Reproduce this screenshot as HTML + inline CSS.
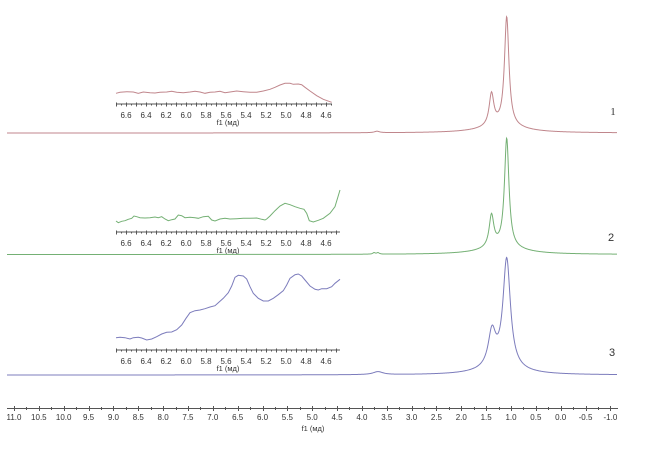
<!DOCTYPE html>
<html><head><meta charset="utf-8">
<style>
html,body{margin:0;padding:0;background:#fff;}
svg{display:block;}
text{font-family:"Liberation Sans","DejaVu Sans",sans-serif;fill:#333;}
</style></head>
<body>
<svg id="s" width="649" height="454" viewBox="0 0 649 454" xmlns="http://www.w3.org/2000/svg">
<g id="axes" stroke="#555" stroke-width="1" fill="none"></g>
<g id="labels" font-size="8" text-anchor="middle"></g>
<text x="313" y="431" font-size="7.5" text-anchor="middle">f1 (мд)</text>
<text x="228" y="125" font-size="7.5" text-anchor="middle">f1 (мд)</text>
<text x="228" y="253" font-size="7.5" text-anchor="middle">f1 (мд)</text>
<text x="228" y="371" font-size="7.5" text-anchor="middle">f1 (мд)</text>
<text x="613" y="115" font-size="11" text-anchor="middle" style="font-family:'Liberation Serif',serif">1</text>
<text x="611" y="241" font-size="11" text-anchor="middle">2</text>
<text x="612" y="356" font-size="11" text-anchor="middle">3</text>
<g id="curves" fill="none" stroke-width="1"></g>
</svg>
<script>
(function(){
var NS="http://www.w3.org/2000/svg";
var axes=document.getElementById('axes'),labels=document.getElementById('labels'),curves=document.getElementById('curves');
function el(p,tag,attrs,txt){var e=document.createElementNS(NS,tag);for(var k in attrs)e.setAttribute(k,attrs[k]);if(txt!==undefined)e.textContent=txt;p.appendChild(e);return e;}
function line(x1,y1,x2,y2){el(axes,'line',{x1:x1,y1:y1,x2:x2,y2:y2});}
function X(p){return 14+(11-p)*49.7;}
line(7,408.5,618,408.5);
for(var i=0;i<=48;i++){var p=11-i*0.25;var x=Math.round(X(p))+0.5;
 if(i%2==0){line(x,406,x,411);el(labels,'text',{x:X(p),y:420},p.toFixed(1));}
 else line(x,407,x,410);}
function IX(p){return 126+(6.6-p)*100;}
function inset(y,xend){
 line(116,y+0.5,xend,y+0.5);
 for(var k=0;k<=44;k++){var p=6.7-k*0.05;var x=IX(p);if(x>xend+0.5)break;x=Math.round(x)+0.5;
  if(k%2==0)line(x,y-1,x,y+3);else line(x,y,x,y+2);}
 var labs=[6.6,6.4,6.2,6.0,5.8,5.6,5.4,5.2,5.0,4.8,4.6];
 labs.forEach(function(p){el(labels,'text',{x:IX(p),y:y+14.5},p.toFixed(1));});
}
inset(103.5,332);inset(231.5,340);inset(349.5,340);
function spec(base,peaks,color){
 var d='';
 for(var x=7;x<=617;x+=0.5){var s=0;peaks.forEach(function(pk){var t=(x-pk[0])/pk[2];s+=pk[1]/(1+t*t);});
  var y=base-s;d+=(x==7?'M':'L')+x.toFixed(1)+' '+y.toFixed(2);}
 el(curves,'path',{d:d,stroke:color});
}
spec(133,[[506.7,109,2.7],[491.5,32,2.8],[502,7,25],[377,1.5,3]],'#c0868c');
spec(254.5,[[506.7,109,2.7],[491.5,32,2.8],[502,7,25],[374,1.5,1.5],[378,1.5,1.5]],'#74b074');
spec(375,[[506.7,109,4.5],[492,35,4.5],[500,6,25],[378,3,6]],'#7c7cbc');
function poly(pts,oy,color){
 var s=pts.map(function(p){return (100+p[0]/3).toFixed(1)+','+(oy+p[1]/3).toFixed(1);}).join(' ');
 el(curves,'polyline',{points:s,stroke:color});
}
poly([[48,70],[60,67],[80,65],[100,66],[115,70],[130,66],[150,68],[165,69],[180,67],[200,66],[215,64],[230,67],[250,68],[270,66],[285,64],[300,66],[315,70],[330,67],[345,66],[360,64],[375,68],[390,66],[410,63],[430,65],[450,67],[470,67],[490,63],[510,58],[525,52],[540,45],[555,40],[570,40],[580,43],[595,42],[605,44],[615,52],[630,63],[650,77],[670,88],[695,97]],70,'#c0868c');
poly([[48,123],[55,128],[65,124],[75,122],[85,118],[95,115],[102,108],[110,110],[120,113],[135,114],[150,113],[165,111],[175,113],[185,110],[195,117],[205,122],[215,119],[225,117],[235,105],[245,107],[255,113],[270,112],[285,113],[295,115],[310,110],[325,109],[335,120],[345,123],[360,117],[375,115],[390,117],[410,116],[430,115],[450,115],[470,114],[485,118],[495,120],[500,117],[510,108],[525,92],[540,78],[555,70],[570,74],[585,80],[600,85],[612,88],[620,100],[628,122],[640,126],[655,121],[670,115],[690,100],[705,80],[720,30]],180,'#74b074');
poly([[48,233],[60,232],[75,233],[90,237],[100,233],[115,232],[125,234],[140,240],[155,237],[170,230],[185,222],[200,217],[215,216],[230,209],[245,195],[258,175],[270,158],[285,152],[300,150],[315,146],[330,141],[345,137],[355,128],[370,115],[385,98],[395,78],[405,52],[415,46],[430,48],[440,57],[450,80],[460,100],[475,115],[490,123],[505,123],[520,115],[535,104],[550,92],[560,75],[570,55],[585,44],[595,42],[605,48],[615,60],[630,78],[645,88],[655,90],[665,86],[680,86],[695,80],[705,70],[720,58]],260,'#7c7cbc');
})();
</script>
</body></html>
